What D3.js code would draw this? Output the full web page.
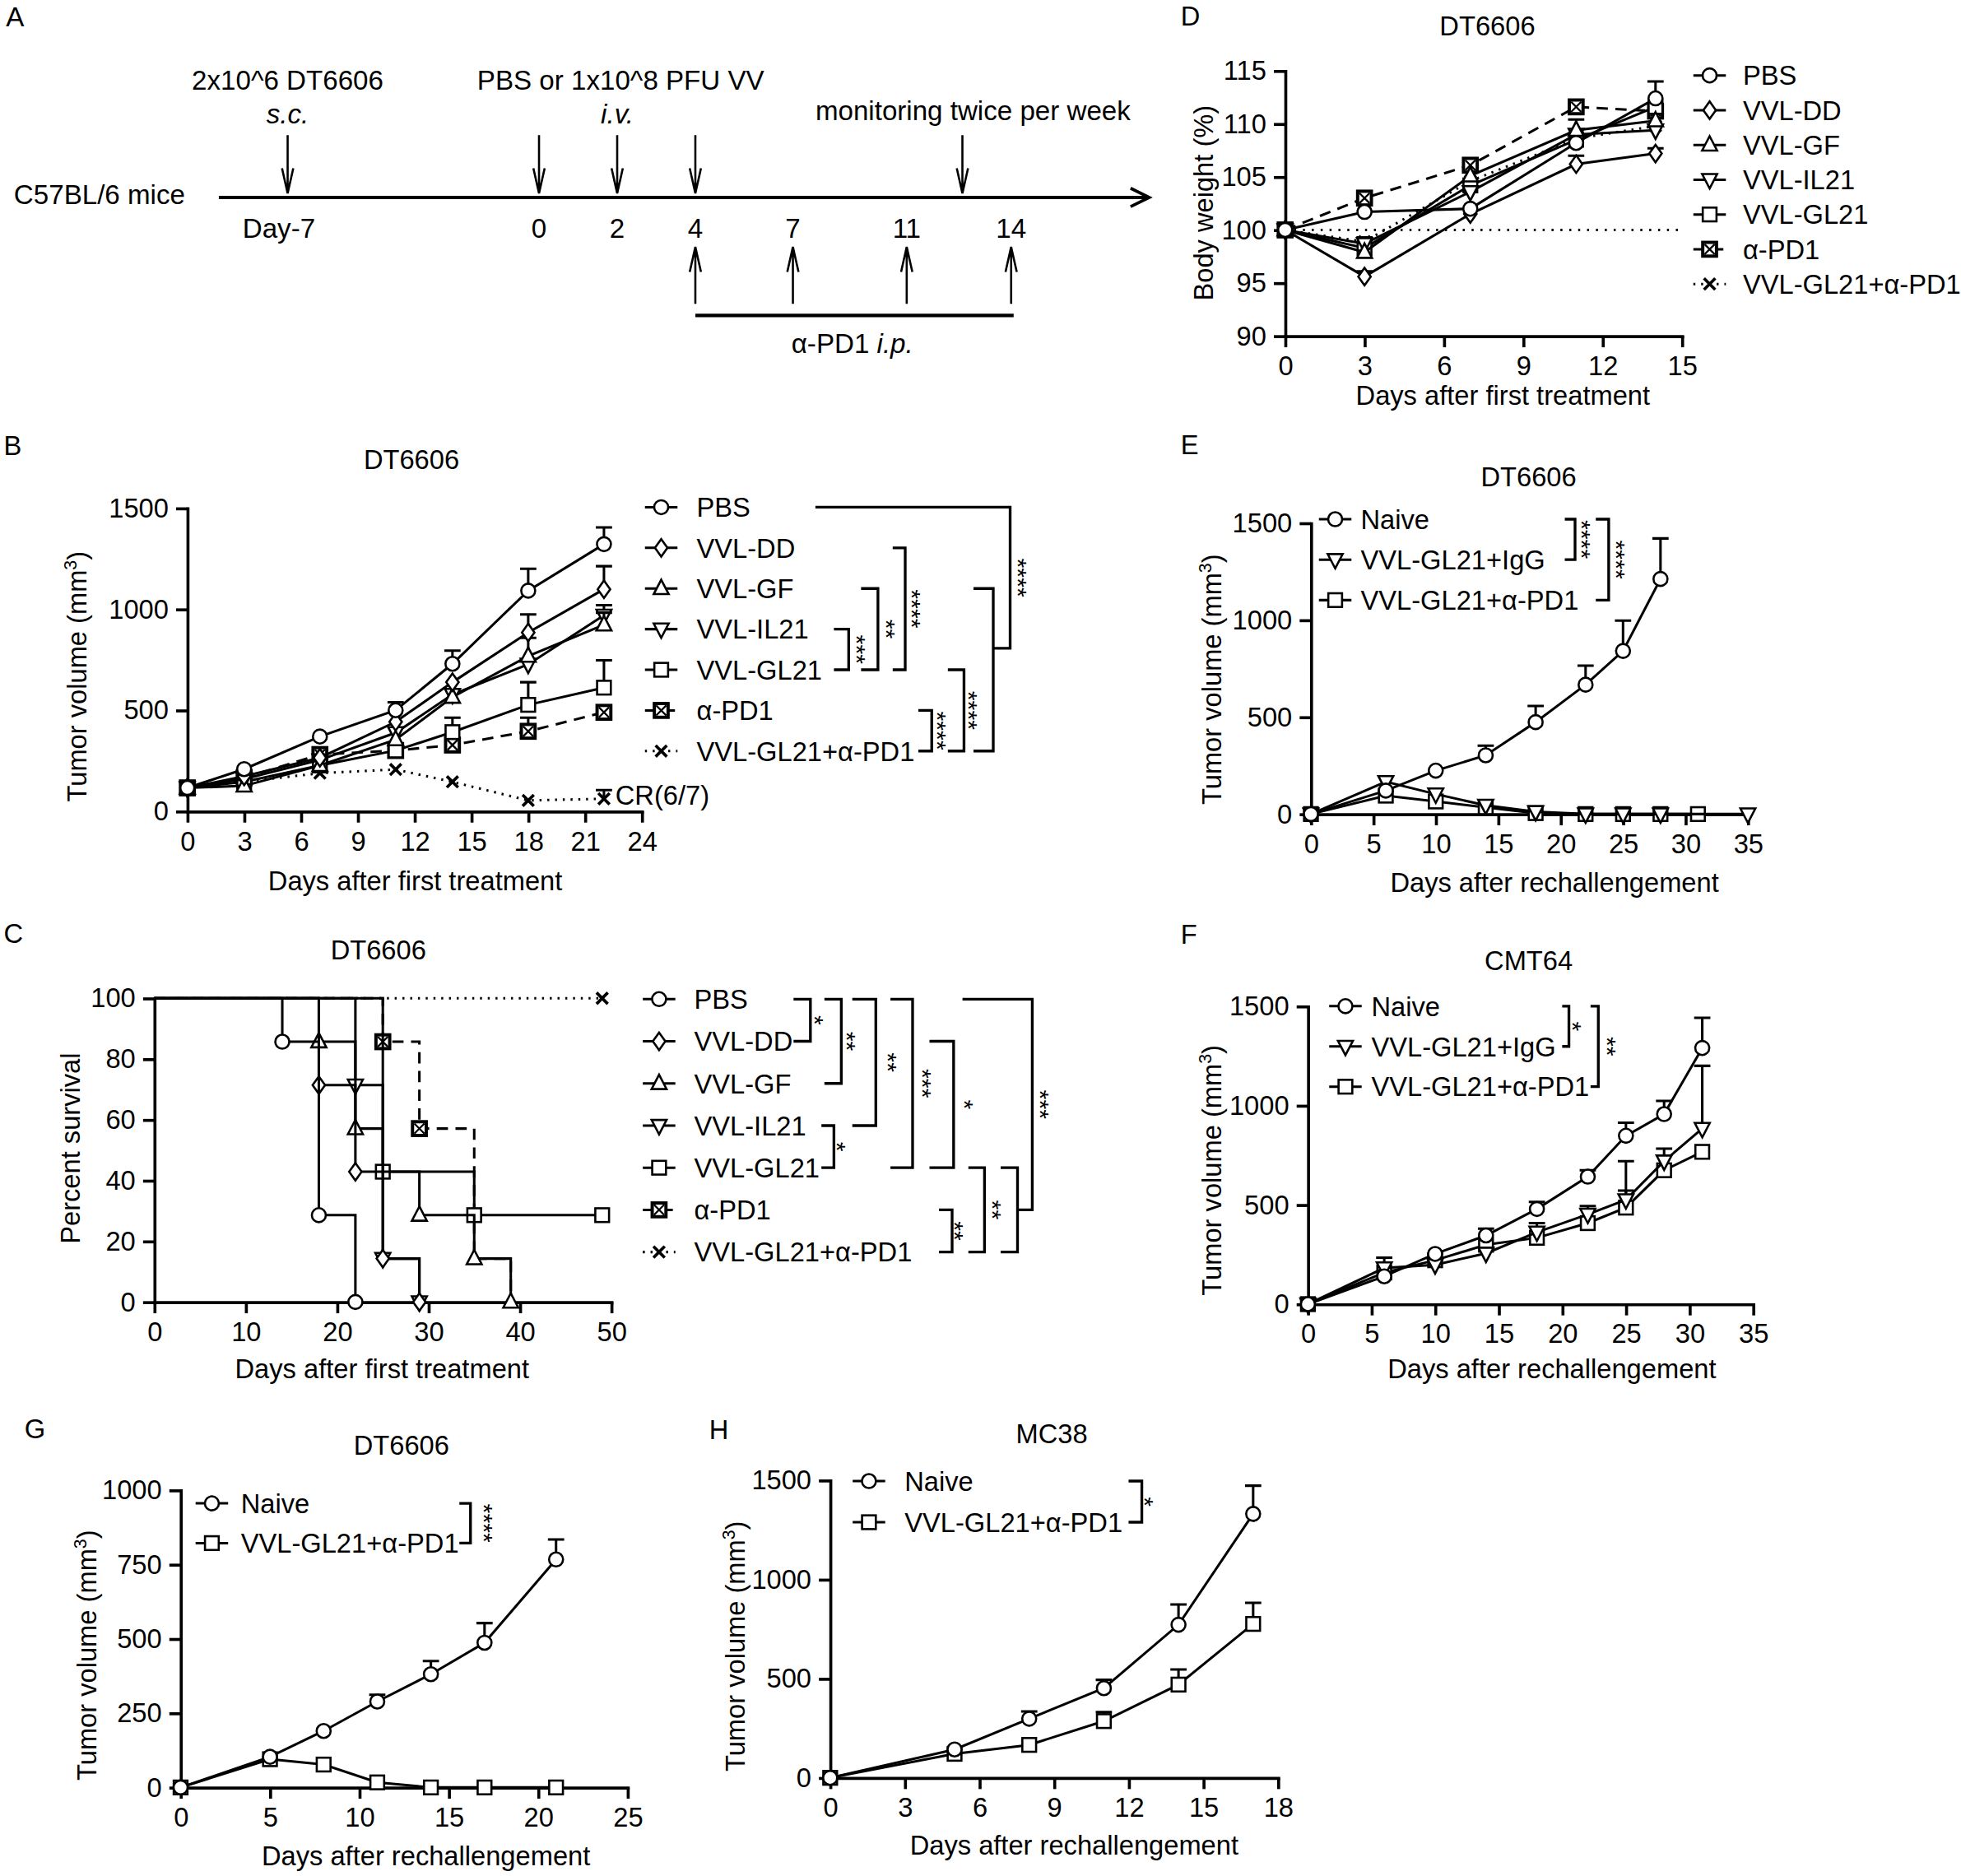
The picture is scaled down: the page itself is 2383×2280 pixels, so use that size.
<!DOCTYPE html>
<html lang="en">
<head>
    <meta charset="UTF-8">
    <title>VVL-GL21 figure</title>
    <script src="https://d3js.org/d3.v7.min.js"></script>
    <style>body{margin:0;background:#fff}</style>
</head>
<body>
    <div id="fig"></div>
<script>
// ---------------- data ----------------
// A: treatment schedule
var timelineDays = [-7, 0, 2, 4, 7, 11, 14];
var timelineLabels = ["Day-7", "0", "2", "4", "7", "11", "14"];
var tumorDay = -7, virusDays = [0, 2, 4], monitorDay = 12.6, antibodyDays = [4, 7, 11, 14];

// B: tumour growth, DT6606
var bDays = [0, 3, 7, 11, 14, 18, 22];
var bPBS = [116, 209, 370, 500, 730, 1092, 1322], bPBSErr = [0, 0, 0, 40, 65, 108, 83];
var bDD = [116, 173, 265, 443, 639, 885, 1099], bDDErr = [0, 0, 0, 0, 0, 89, 114];
var bGF = [116, 126, 227, 355, 565, 768, 923], bGFErr = [0, 0, 0, 0, 0, 90, 60];
var bIL21 = [116, 160, 254, 389, 578, 727, 970], bIL21Err = [0, 0, 0, 0, 0, 0, 50];
var bGL21 = [116, 146, 227, 301, 392, 527, 612], bGL21Err = [0, 0, 0, 0, 71, 112, 135];
var bPD1 = [116, 166, 281, 301, 328, 396, 490], bPD1Err = [0, 0, 0, 0, 0, 67, 0];
var bCombo = [116, 146, 189, 207, 146, 54, 62], bComboErr = [0, 0, 0, 0, 0, 0, 43];

// C: survival (days of events, percent surviving after each event)
var cPBSDays = [0, 14, 18, 22], cPBSSurv = [100, 85.7, 28.6, 0];
var cDDDays = [0, 18, 22, 25, 29], cDDSurv = [100, 71.4, 42.9, 14.3, 0];
var cGFDays = [0, 18, 22, 25, 29, 35, 39], cGFSurv = [100, 85.7, 57.1, 42.9, 28.6, 14.3, 0];
var cIL21Days = [0, 22, 25, 29], cIL21Surv = [100, 71.4, 14.3, 0];
var cGL21Days = [0, 25, 35, 49], cGL21Surv = [100, 42.9, 28.6, 28.6];
var cPD1Days = [0, 25, 29, 35, 39], cPD1Surv = [100, 85.7, 57.1, 14.3, 0];
var cComboDays = [0, 49], cComboSurv = [100, 100];

// D: body weight
var dDays = [0, 3, 7, 11, 14];
var dPBS = [100, 101.7, 102.0, 108.2, 112.4], dPBSErr = [0, 0, 0, 0, 1.6];
var dDD = [100, 95.6, 101.5, 106.2, 107.2], dDDErr = [0, 0.5, 0, 0.8, 0.5];
var dGF = [100, 97.9, 105.1, 109.4, 110.3], dGFErr = [0, 0, 0, 1.0, 0];
var dIL21 = [100, 98.7, 103.6, 109.0, 109.4], dIL21Err = [0, 0.6, 0, 0, 0];
var dGL21 = [100, 98.3, 104.2, 108.5, 111.6];
var dPD1 = [100, 103.0, 106.1, 111.6, 111.2];
var dCombo = [100, 98.9, 104.6, 108.6, 109.8];

// E: rechallenge DT6606
var eNaiveDays = [0, 6, 10, 14, 18, 22, 25, 28];
var eNaive = [0, 121, 224, 303, 474, 667, 841, 1212], eNaiveErr = [0, 0, 0, 50, 83, 98, 156, 209];
var eIgGDays = [0, 6, 10, 14, 18, 22, 25, 28, 35];
var eIgG = [0, 167, 103, 45, 12, 0, 0, 0, 0];
var ePD1Days = [0, 6, 10, 14, 18, 22, 25, 28, 31];
var ePD1 = [0, 95, 65, 35, 5, 0, 0, 0, 0];

// F: rechallenge CMT64
var fDays = [0, 6, 10, 14, 18, 22, 25, 28, 31];
var fNaive = [0, 140, 253, 346, 479, 642, 848, 957, 1290], fNaiveErr = [0, 0, 0, 34, 36, 32, 66, 66, 152];
var fIgG = [0, 182, 198, 256, 362, 452, 525, 720, 884], fIgGErr = [0, 52, 0, 0, 46, 42, 195, 63, 316];
var fPD1 = [0, 159, 221, 299, 334, 408, 486, 674, 767], fPD1Err = [0, 0, 0, 0, 0, 0, 86, 0, 0];

// G: rechallenge DT6606
var gDays = [0, 5, 8, 11, 14, 17, 21];
var gNaive = [0, 103, 190, 289, 381, 487, 767], gNaiveErr = [0, 0, 0, 23, 44, 66, 67];
var gCombo = [0, 95, 77, 17, 0, 0, 0];

// H: rechallenge MC38
var hDays = [0, 5, 8, 11, 14, 17];
var hNaive = [0, 143, 298, 452, 772, 1331], hNaiveErr = [0, 0, 37, 42, 102, 142];
var hCombo = [0, 121, 166, 286, 470, 776], hComboErr = [0, 0, 0, 46, 76, 106];

var groups7 = ["PBS", "VVL-DD", "VVL-GF", "VVL-IL21", "VVL-GL21", "α-PD1", "VVL-GL21+α-PD1"];
var shapes7 = ["circle", "diamond", "up", "down", "square", "boxx", "cross"];
var styles7 = ["solid", "solid", "solid", "solid", "solid", "dash", "dot"];

// ---------------- setup ----------------
var FONT = "'Liberation Sans', Arial, Helvetica, sans-serif";
var FS = 21.5;
var DASH = {solid: null, dash: "9,6", dot: "1.6,4.6"};

var svg = d3.select("#fig").append("svg")
    .attr("width", 2383).attr("height", 2280)
    .attr("viewBox", "0 0 1568 1500.2")
    .attr("font-family", FONT).attr("font-size", FS)
    .style("background", "#fff");
svg.append("rect").attr("width", 1568).attr("height", 1500.2).attr("fill", "#fff");

function text(g, x, y, s, anchor) {
    return g.append("text").attr("x", x).attr("y", y)
        .attr("text-anchor", anchor || "start").text(s);
}

function yTitle(g, cx, cy, s, sup) {
    var t = g.append("text").attr("text-anchor", "middle")
        .attr("transform", "translate(" + (cx + 7.7) + "," + cy + ") rotate(-90)");
    if (sup) {
        t.append("tspan").text("Tumor volume (mm");
        t.append("tspan").attr("font-size", 14).attr("dy", -8).text("3");
        t.append("tspan").attr("dy", 8).text(")");
    } else t.text(s);
}

function marker(g, type, cx, cy) {
    var m = g.append("g").attr("transform", "translate(" + cx + "," + cy + ")")
        .attr("fill", "#fff").attr("stroke", "#000").attr("stroke-width", 1.7);
    if (type === "circle") m.append("circle").attr("r", 5.6);
    else if (type === "diamond") m.append("path").attr("d", "M0,-7L5,0L0,7L-5,0Z");
    else if (type === "up") m.append("path").attr("d", "M0,-7L6,4.5L-6,4.5Z");
    else if (type === "down") m.append("path").attr("d", "M0,7L6,-4.5L-6,-4.5Z");
    else if (type === "square") m.append("rect").attr("x", -5.5).attr("y", -5.5).attr("width", 11).attr("height", 11);
    else if (type === "boxx") {
        m.append("rect").attr("x", -5.5).attr("y", -5.5).attr("width", 11).attr("height", 11).attr("stroke-width", 2.6);
        m.append("path").attr("d", "M-4,-4L4,4M4,-4L-4,4").attr("stroke-width", 1.5);
    } else if (type === "cross") m.append("path").attr("d", "M-4.5,-4.5L4.5,4.5M4.5,-4.5L-4.5,4.5").attr("stroke-width", 2.4);
}

function xyPanel(p) {
    var g = svg.append("g");
    var x = d3.scaleLinear().domain(p.xDom).range(p.xRange);
    var y = d3.scaleLinear().domain(p.yDom).range(p.yRange);
    var ax = g.append("g").attr("transform", "translate(0," + p.yRange[0] + ")")
        .call(d3.axisBottom(x).tickValues(p.xTicks).tickFormat(d3.format("d"))
            .tickSize(9).tickPadding(7).tickSizeOuter(0));
    var ay = g.append("g").attr("transform", "translate(" + p.xRange[0] + ",0)")
        .call(d3.axisLeft(y).tickValues(p.yTicks).tickFormat(d3.format("d"))
            .tickSize(9).tickPadding(6).tickSizeOuter(0));
    [ax, ay].forEach(function(a) {
        a.attr("font-family", null).attr("font-size", null);
        a.select(".domain").attr("stroke-width", 2.4).attr("stroke-linecap", "square");
        a.selectAll(".tick line").attr("stroke-width", 2.4);
        a.selectAll(".tick text").attr("fill", "#000");
    });
    text(g, p.title[0], p.title[1], p.title[2], "middle");
    text(g, p.xt[0], p.xt[1], p.xt[2], "middle");
    yTitle(g, p.yt[0], p.yt[1], p.yt[2], p.sup);
    text(g, p.letter[0], p.letter[1], p.letter[2]);
    return {g: g, x: x, y: y};
}

function series(pn, days, vals, errs, shape, style) {
    var pts = days.map(function(d, i) { return [d, vals[i], errs ? errs[i] : 0]; });
    pn.g.append("path").datum(pts).attr("fill", "none").attr("stroke", "#000")
        .attr("stroke-width", 2).attr("stroke-dasharray", DASH[style])
        .attr("d", d3.line().x(function(d) { return pn.x(d[0]); }).y(function(d) { return pn.y(d[1]); }));
    pts.filter(function(d) { return d[2] > 0; }).forEach(function(d) {
        var cx = pn.x(d[0]), y1 = pn.y(d[1]), y2 = pn.y(d[1] + d[2]);
        pn.g.append("path").attr("fill", "none").attr("stroke", "#000").attr("stroke-width", 2)
            .attr("d", "M" + cx + "," + y1 + "V" + y2 + "M" + (cx - 6.5) + "," + y2 + "H" + (cx + 6.5));
    });
    pts.forEach(function(d) { marker(pn.g, shape, pn.x(d[0]), pn.y(d[1])); });
}

function survival(pn, days, surv, shape, style, marks) {
    var pts = days.map(function(d, i) { return [d, surv[i]]; });
    pn.g.append("path").datum(pts).attr("fill", "none").attr("stroke", "#000")
        .attr("stroke-width", 2).attr("stroke-dasharray", DASH[style])
        .attr("d", d3.line().curve(d3.curveStepAfter)
            .x(function(d) { return pn.x(d[0]); }).y(function(d) { return pn.y(d[1]); }));
    pts.forEach(function(d) {
        if (marks.indexOf(d[0]) >= 0) marker(pn.g, shape, pn.x(d[0]), pn.y(d[1]));
    });
}

function legend(g, names, shapes, styles, mx, tx, y0, dy) {
    names.forEach(function(n, i) {
        var yy = y0 + dy * i;
        g.append("line").attr("x1", mx - 13).attr("x2", mx + 13).attr("y1", yy).attr("y2", yy)
            .attr("stroke", "#000").attr("stroke-width", 2).attr("stroke-dasharray", DASH[styles[i]]);
        marker(g, shapes[i], mx, yy);
        text(g, tx, yy + FS * 0.36, n);
    });
}

function brackets(g, list, y0, dy) {
    list.forEach(function(b) {
        var yA = y0 + dy * b.r1, yB = y0 + dy * b.r2;
        var xb = b.xb === undefined ? b.xa : b.xb;
        g.append("path").attr("fill", "none").attr("stroke", "#000").attr("stroke-width", 2.2)
            .attr("d", "M" + b.xa + "," + yA + "H" + b.xv + "V" + yB + "H" + xb);
        if (b.s) g.append("text").attr("text-anchor", "middle").attr("font-size", 20)
            .attr("transform", "translate(" + (b.xs - 12) + "," + ((yA + yB) / 2) + ") rotate(90)")
            .text(b.s);
    });
}

// ---------------- A: schedule ----------------
var gA = svg.append("g");
var tl = d3.scaleLinear().domain(timelineDays).range([230, 431, 493.5, 556, 634, 725, 808.5]);
text(gA, 4.7, 21, "A");
gA.append("path").attr("d", "M175,157.9H918").attr("stroke", "#000").attr("stroke-width", 2.6);
gA.append("path").attr("d", "M904,150.5L919,157.9L904,165.3").attr("fill", "none").attr("stroke", "#000").attr("stroke-width", 2.4);
function arrow(x, y1, y2) {
    var dir = y2 > y1 ? -1 : 1;
    gA.append("path").attr("fill", "none").attr("stroke", "#000").attr("stroke-width", 1.7)
        .attr("d", "M" + x + "," + y1 + "V" + y2 + "M" + (x - 4.5) + "," + (y2 + dir * 20) + "L" + x + "," + y2 + "L" + (x + 4.5) + "," + (y2 + dir * 20));
}
[tumorDay].concat(virusDays).concat([monitorDay]).forEach(function(d) { arrow(tl(d), 108, 154.6); });
antibodyDays.forEach(function(d) { arrow(tl(d), 243, 197.4); });
gA.append("path").attr("d", "M" + tl(4) + ",252.2H" + (tl(14) + 2)).attr("stroke", "#000").attr("stroke-width", 2.8);
gA.attr("font-size", 21.8);
timelineLabels.forEach(function(s, i) {
    text(gA, tl(timelineDays[i]) - (i === 0 ? 7 : 0), 190.4, s, "middle");
});
text(gA, 148, 163.4, "C57BL/6 mice", "end");
text(gA, tl(tumorDay), 71.9, "2x10^6 DT6606", "middle");
text(gA, tl(tumorDay), 98.7, "s.c.", "middle").attr("font-style", "italic");
text(gA, 496.3, 71.9, "PBS or 1x10^8 PFU VV", "middle");
text(gA, tl(2), 98.7, "i.v.", "middle").attr("font-style", "italic");
text(gA, 652, 95.9, "monitoring twice per week");
var ip = gA.append("text").attr("x", 681.5).attr("y", 282).attr("text-anchor", "middle");
ip.append("tspan").text("α-PD1 ");
ip.append("tspan").attr("font-style", "italic").text("i.p.");

// ---------------- B ----------------
var pB = xyPanel({xDom: [0, 24], xRange: [149.8, 513.2], yDom: [0, 1500], yRange: [648.8, 406.4],
    xTicks: d3.range(0, 25, 3), yTicks: [0, 500, 1000, 1500],
    title: [329, 375, "DT6606"], xt: [332, 712, "Days after first treatment"], yt: [61.7, 541], sup: true,
    letter: [3, 364, "B"]});
var bVals = [bPBS, bDD, bGF, bIL21, bGL21, bPD1, bCombo];
var bErrs = [bPBSErr, bDDErr, bGFErr, bIL21Err, bGL21Err, bPD1Err, bComboErr];
[6, 5, 4, 3, 2, 1, 0].forEach(function(i) { series(pB, bDays, bVals[i], bErrs[i], shapes7[i], styles7[i]); });
text(pB.g, 492, 643.5, "CR(6/7)");
legend(pB.g, groups7, shapes7, styles7, 528.7, 557, 405.6, 32.5);
brackets(pB.g, [
    {r1: 3, r2: 4, xa: 666.8, xv: 678.6, xs: 690.3, s: "***"},
    {r1: 2, r2: 4, xa: 688.5, xv: 702, xs: 713.8, s: "**"},
    {r1: 1, r2: 4, xa: 713.8, xv: 723.8, xs: 734.3, s: "****"},
    {r1: 5, r2: 6, xa: 734.3, xv: 745, xs: 754.9, s: "****"},
    {r1: 4, r2: 6, xa: 757.9, xv: 770.8, xs: 780.2, s: "****"},
    {r1: 2, r2: 6, xa: 778.4, xv: 794.2},
    {r1: 0, r2: 3.47, xa: 652, xb: 794.2, xv: 807.7, xs: 819.5, s: "****"}
], 405.6, 32.5);

// ---------------- C ----------------
var pC = xyPanel({xDom: [0, 50], xRange: [123.4, 488.8], yDom: [0, 100], yRange: [1041.2, 798.3],
    xTicks: d3.range(0, 51, 10), yTicks: d3.range(0, 101, 20),
    title: [302.5, 767.5, "DT6606"], xt: [305.5, 1102, "Days after first treatment"], yt: [55.8, 918.3, "Percent survival"],
    letter: [3, 754, "C"]});
survival(pC, cComboDays, cComboSurv, "cross", "dot", [49]);
survival(pC, cPD1Days, cPD1Surv, "boxx", "dash", [25, 29]);
survival(pC, cGL21Days, cGL21Surv, "square", "solid", [25, 35, 49]);
survival(pC, cIL21Days, cIL21Surv, "down", "solid", [22, 25, 29]);
survival(pC, cGFDays, cGFSurv, "up", "solid", [18, 22, 29, 35, 39]);
survival(pC, cDDDays, cDDSurv, "diamond", "solid", [18, 22, 25, 29]);
survival(pC, cPBSDays, cPBSSurv, "circle", "solid", [14, 18, 22]);
legend(pC.g, groups7, shapes7, styles7, 527, 555, 799, 33.7);
brackets(pC.g, [
    {r1: 0, r2: 1, xa: 634.5, xv: 648, xs: 656.8, s: "*"},
    {r1: 0, r2: 2, xa: 659.2, xv: 672.7, xs: 682.7, s: "**"},
    {r1: 0, r2: 3, xa: 681.5, xv: 700.3, xs: 715.5, s: "**"},
    {r1: 3, r2: 4, xa: 656.8, xv: 666.8, xs: 674.4, s: "*"},
    {r1: 0, r2: 4, xa: 712, xv: 729.7, xs: 743.2, s: "***"},
    {r1: 1, r2: 4, xa: 743.2, xv: 762.5, xs: 776.7, s: "*"},
    {r1: 5, r2: 6, xa: 750.8, xv: 761.3, xs: 768.4, s: "**"},
    {r1: 4, r2: 6, xa: 774.3, xv: 787.2, xs: 799, s: "**"},
    {r1: 4, r2: 6, xa: 800.1, xv: 813.6},
    {r1: 0, r2: 5, xa: 769.6, xb: 813.6, xv: 825.4, xs: 837.1, s: "***"}
], 799, 33.7);

// ---------------- D ----------------
var pD = xyPanel({xDom: [0, 15], xRange: [1027.6, 1344.9], yDom: [90, 115], yRange: [268.7, 56.6],
    xTicks: d3.range(0, 16, 3), yTicks: d3.range(90, 116, 5),
    title: [1189.3, 28.5, "DT6606"], xt: [1201.7, 323.5, "Days after first treatment"], yt: [962.4, 162.3, "Body weight (%)"],
    letter: [944, 20.5, "D"]});
pD.g.append("line").attr("x1", pD.x(0)).attr("x2", pD.x(15)).attr("y1", pD.y(100)).attr("y2", pD.y(100))
    .attr("stroke", "#000").attr("stroke-width", 2).attr("stroke-dasharray", "1.6,5.5");
var dVals = [dPBS, dDD, dGF, dIL21, dGL21, dPD1, dCombo];
var dErrs = [dPBSErr, dDDErr, dGFErr, dIL21Err, null, null, null];
[6, 5, 4, 3, 2, 1, 0].forEach(function(i) { series(pD, dDays, dVals[i], dErrs[i], shapes7[i], styles7[i]); });
legend(pD.g, groups7, shapes7, styles7, 1367, 1393.6, 60.3, 27.8);

// ---------------- E ----------------
var pE = xyPanel({xDom: [0, 35], xRange: [1048.2, 1397.6], yDom: [0, 1500], yRange: [651, 418.3],
    xTicks: d3.range(0, 36, 5), yTicks: [0, 500, 1000, 1500],
    title: [1222.3, 388.6, "DT6606"], xt: [1243, 713, "Days after rechallengement"], yt: [968.6, 543.3], sup: true,
    letter: [944, 363, "E"]});
series(pE, ePD1Days, ePD1, null, "square", "solid");
series(pE, eIgGDays, eIgG, null, "down", "solid");
series(pE, eNaiveDays, eNaive, eNaiveErr, "circle", "solid");
var groups3 = ["Naive", "VVL-GL21+IgG", "VVL-GL21+α-PD1"];
legend(pE.g, groups3, ["circle", "down", "square"], ["solid", "solid", "solid"], 1067.6, 1088, 415.2, 32.35);
brackets(pE.g, [
    {r1: 0, r2: 1, xa: 1251.2, xv: 1259.4, xs: 1269.8, s: "****"},
    {r1: 0, r2: 2, xa: 1276, xv: 1286.3, xs: 1297.4, s: "****"}
], 415.2, 32.35);

// ---------------- F ----------------
var pF = xyPanel({xDom: [0, 35], xRange: [1045.8, 1401.8], yDom: [0, 1500], yRange: [1042.9, 804.7],
    xTicks: d3.range(0, 36, 5), yTicks: [0, 500, 1000, 1500],
    title: [1222.3, 776, "CMT64"], xt: [1240.9, 1102, "Days after rechallengement"], yt: [968.6, 935.9], sup: true,
    letter: [944, 755, "F"]});
series(pF, fDays, fPD1, fPD1Err, "square", "solid");
series(pF, fDays, fIgG, fIgGErr, "down", "solid");
series(pF, fDays, fNaive, fNaiveErr, "circle", "solid");
legend(pF.g, groups3, ["circle", "down", "square"], ["solid", "solid", "solid"], 1075.8, 1096.5, 804.6, 32.2);
brackets(pF.g, [
    {r1: 0, r2: 1, xa: 1249.1, xv: 1254.5, xs: 1262.7, s: "*"},
    {r1: 0, r2: 2, xa: 1271.8, xv: 1278, xs: 1290.3, s: "**"}
], 804.6, 32.2);

// ---------------- G ----------------
var pG = xyPanel({xDom: [0, 25], xRange: [144.4, 501.8], yDom: [0, 1000], yRange: [1429.4, 1191.7],
    xTicks: d3.range(0, 26, 5), yTicks: d3.range(0, 1001, 250),
    title: [321, 1163.5, "DT6606"], xt: [340.6, 1491.5, "Days after rechallengement"], yt: [69.5, 1323.7], sup: true,
    letter: [19.6, 1150, "G"]});
series(pG, gDays, gCombo, null, "square", "solid");
series(pG, gDays, gNaive, gNaiveErr, "circle", "solid");
var groups2 = ["Naive", "VVL-GL21+α-PD1"];
legend(pG.g, groups2, ["circle", "square"], ["solid", "solid"], 169.4, 192.6, 1202.2, 31.8);
brackets(pG.g, [{r1: 0, r2: 1, xa: 367.3, xv: 376.2, xs: 392.3, s: "****"}], 1202.2, 31.8);

// ---------------- H ----------------
var pH = xyPanel({xDom: [0, 18], xRange: [663.8, 1021.9], yDom: [0, 1500], yRange: [1421.7, 1183.8],
    xTicks: d3.range(0, 19, 3), yTicks: [0, 500, 1000, 1500],
    title: [841, 1154, "MC38"], xt: [858.9, 1483, "Days after rechallengement"], yt: [587.8, 1316.5], sup: true,
    letter: [567, 1151, "H"]});
series(pH, hDays, hCombo, hComboErr, "square", "solid");
series(pH, hDays, hNaive, hNaiveErr, "circle", "solid");
legend(pH.g, groups2, ["circle", "square"], ["solid", "solid"], 694.8, 723.3, 1184.4, 32.9);
brackets(pH.g, [{r1: 0, r2: 1, xa: 902.4, xv: 913, xs: 921, s: "*"}], 1184.4, 32.9);
</script>
</body>
</html>
